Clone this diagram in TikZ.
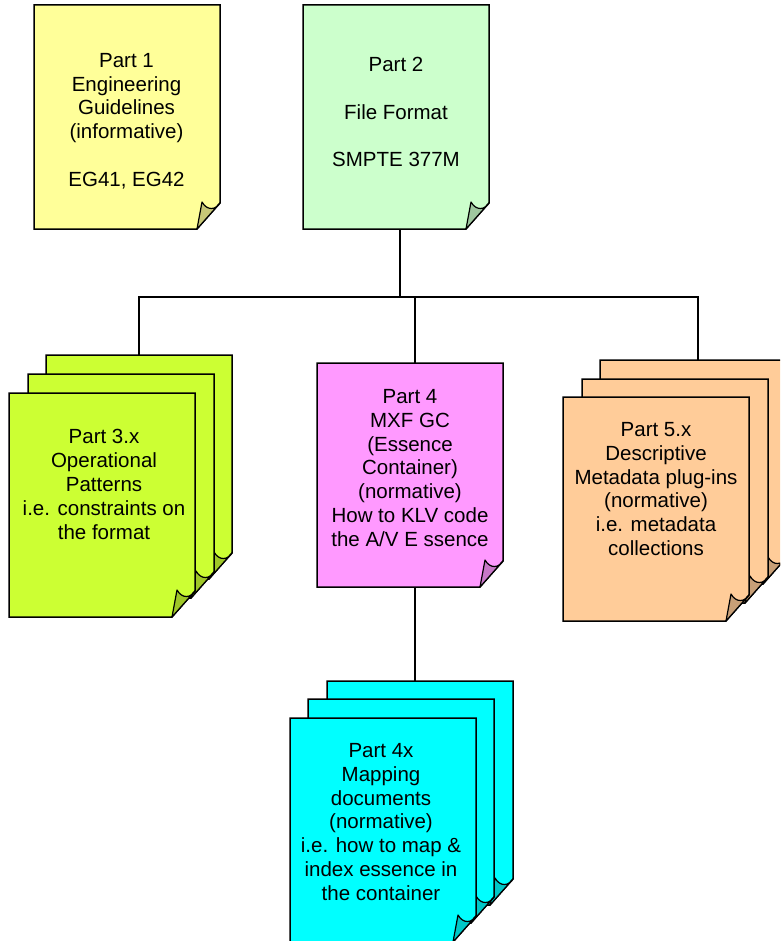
\documentclass[tikz,border=0pt]{standalone}
\usepackage{fontspec}
\setmainfont{Liberation Sans}
\usetikzlibrary{calc}
\definecolor{c1}{HTML}{FFFF99}
\definecolor{c2}{HTML}{CCFFCC}
\definecolor{c3}{HTML}{CCFF33}
\definecolor{c4}{HTML}{FF99FF}
\definecolor{c4x}{HTML}{00FFFF}
\definecolor{c5}{HTML}{FFCC99}
\tikzset{
  pg/.style={minimum width=186pt, minimum height=224pt, inner sep=0pt, outer sep=0pt},
  outline/.style={draw=black, line width=1.5pt, line join=miter},
  conn/.style={draw=black, line width=1.5pt},
  txt/.style={align=center, font=\fontsize{20.5}{23.8}\selectfont, inner sep=0pt},
}
\newcommand\docpage[4]{% name, left x, top y, colour
  \node[pg] (#1) at (#2+93,#3+112) {};
  \filldraw[outline, fill=#4] (#1.north west) -- (#1.north east) -- ([yshift=26pt]#1.south east) -- ([xshift=-23pt]#1.south east) -- (#1.south west) -- cycle;
  \filldraw[outline, line width=1.2pt, line join=round, fill=#4!78!black] ([yshift=26pt]#1.south east) .. controls ([xshift=-4pt,yshift=19pt]#1.south east) and ([xshift=-13pt,yshift=18pt]#1.south east) .. ([xshift=-18pt,yshift=27pt]#1.south east) -- ([xshift=-23pt]#1.south east) -- cycle;
}
\begin{document}
\begin{tikzpicture}[x=1pt,y=-1pt]
\useasboundingbox (0,0) rectangle (780,941);
\clip (0,0) rectangle (780,941);
% pages
\docpage{p1}{34}{5}{c1}
\docpage{p2}{303}{5}{c2}
\docpage{p3b}{46}{355}{c3}
\docpage{p3m}{28}{374}{c3}
\docpage{p3}{9}{393}{c3}
\docpage{p4}{317}{363}{c4}
\docpage{p5b}{600}{360}{c5}
\docpage{p5m}{582}{379}{c5}
\docpage{p5}{563}{397}{c5}
\docpage{p4xb}{327}{681}{c4x}
\docpage{p4xm}{308}{699}{c4x}
\docpage{p4x}{290}{718}{c4x}
% connectors
\coordinate (c2) at ([xshift=4pt]p2.south);
\coordinate (hub) at (400,297);
\coordinate (c5) at ([xshift=5pt]p5b.north);
\coordinate (c4t) at ([xshift=5pt]p4.north);
\coordinate (c4s) at ([xshift=5pt]p4.south);
\draw[conn] (c2) -- (c2 |- hub);
\draw[conn] (p3b.north) |- (hub);
\draw[conn] (c5) |- (hub);
\draw[conn] (c4t) |- (hub);
\draw[conn] (c4s) -- (c4s |- p4xb.north);
% texts
\node[txt] (t1) at (126.5,121) {Part 1\\Engineering\\Guidelines\\(informative)\\[23.8pt]EG41, EG42};
\node[txt] (t2) at (396,112) {Part 2\\[23.8pt]File Format\\[23.8pt]SMPTE 377M};
\node[txt] (t3) at (104,484.5) {Part 3.x\\Operational\\Patterns\\i.e. constraints on\\the format};
\node[txt] (t4) at (410,468) {Part 4\\MXF GC\\(Essence\\Container)\\(normative)\\How to KLV code\\the A/V E ssence};
\node[txt] (t5) at (656,489) {Part 5.x\\Descriptive\\Metadata plug-ins\\(normative)\\i.e. metadata\\collections};
\node[txt] (t4x) at (381,822) {Part 4x\\Mapping\\documents\\(normative)\\i.e. how to map \&\\index essence in\\the container};
\end{tikzpicture}
\end{document}
